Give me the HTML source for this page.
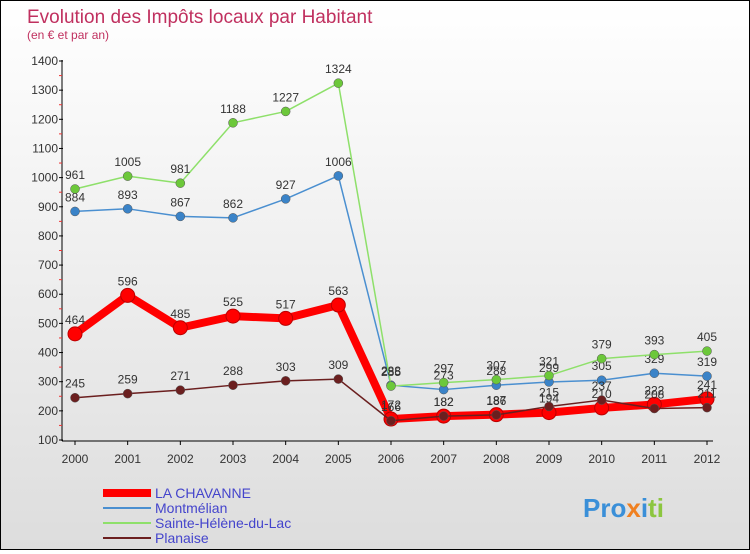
<!DOCTYPE html>
<html><head><meta charset="utf-8"><style>
body{margin:0;width:750px;height:550px;overflow:hidden;font-family:"Liberation Sans",sans-serif}
#wrap{position:relative;width:748px;height:548px;border:1px solid #000;background:linear-gradient(#fff,#ddd)}
</style></head><body>
<div id="wrap">
<svg id="c" width="748" height="548" xmlns="http://www.w3.org/2000/svg">
<text x="26" y="22" font-size="19" fill="#c0305f">Evolution des Impôts locaux par Habitant</text>
<text x="26" y="38" font-size="12" fill="#c0305f">(en € et par an)</text>
</svg>
</div>
<script>
const years=[2000,2001,2002,2003,2004,2005,2006,2007,2008,2009,2010,2011,2012];
const yTicks=[100,200,300,400,500,600,700,800,900,1000,1100,1200,1300,1400];
const chavanne=[464,596,485,525,517,563,172,182,187,194,210,222,241];
const montmelian=[884,893,867,862,927,1006,288,273,288,299,305,329,319];
const sainteHelene=[961,1005,981,1188,1227,1324,285,297,307,321,379,393,405];
const planaise=[245,259,271,288,303,309,166,182,186,215,237,208,211];
const seriesNames=["LA CHAVANNE","Montmélian","Sainte-Hélène-du-Lac","Planaise"];
const NS="http://www.w3.org/2000/svg";
const svg=document.getElementById('c');
const x=i=>74+i*(632/12);
const y=v=>439-(v-100)*(379/1300);
function mk(t,a,p){const e=document.createElementNS(NS,t);for(const k in a)e.setAttribute(k,a[k]);(p||svg).appendChild(e);return e;}
let ax=mk('line',{x1:61,y1:59,x2:61,y2:440,stroke:'#000'});


yTicks.forEach(v=>{
 mk('line',{x1:58,x2:62,y1:y(v),y2:y(v),stroke:'#000'});
 if(v<1400)mk('line',{x1:58,x2:61,y1:y(v+50),y2:y(v+50),stroke:'#e33'});
 const t=mk('text',{x:57,y:y(v)+4,'font-size':12,fill:'#333','text-anchor':'end'});t.textContent=v;
 
 
});
let xa=mk('line',{x1:61,y1:440,x2:712,y2:440,stroke:'#000'});


years.forEach((yr,i)=>{
 mk('line',{x1:x(i),x2:x(i),y1:440,y2:444,stroke:'#000'});
 const t=mk('text',{x:x(i),y:462,'font-size':12,fill:'#333','text-anchor':'middle'});t.textContent=yr;
 
 
});
const defs=[[chavanne,'#ff0000','#ff0000',8,7,'la-chavanne'],[montmelian,'#4a8fd0','#3a83c8',1.5,4.5,'montmelian'],[sainteHelene,'#8ee06a','#6cc83a',1.5,4.5,'sainte-helene'],[planaise,'#6b1f1f','#6b1f1f',1.5,4.5,'planaise']];
defs.forEach(([d,lc,pc,w,r,n])=>{
 const g=mk('g',{});
 
 
 const pl=mk('polyline',{points:d.map((v,i)=>x(i)+','+y(v)).join(' '),fill:'none',stroke:lc,'stroke-width':w,'stroke-linejoin':'round'},g);
 
 
 d.forEach((v,i)=>{
  const c=mk('circle',{cx:x(i),cy:y(v),r:r,fill:pc,stroke:n==='la-chavanne'?'#b00':'#555','stroke-width':n==='la-chavanne'?1:0.5},g);
  
  
  const t=mk('text',{x:x(i),y:y(v)-10,'font-size':12,fill:'#333','text-anchor':'middle'},g);t.textContent=v;
  
  
 });
});
const lcol=['#ff0000','#4a8fd0','#8ee06a','#6b1f1f'],lw=[8,2,2,2];
seriesNames.forEach((s,i)=>{
 const yy=492+i*15;
 const g=mk('g',{});
 
 
 mk('line',{x1:102,x2:150,y1:yy,y2:yy,stroke:lcol[i],'stroke-width':lw[i]},g);
 const t=mk('text',{x:154,y:yy+5,'font-size':14,fill:'#4444cc'},g);t.textContent=s;
});
const lg=mk('text',{x:582,y:516,'font-size':26,'font-weight':'bold',fill:'#3a8fd8'});


lg.innerHTML='<tspan fill="#3a8fd8">Pro</tspan><tspan fill="#f08020">x</tspan><tspan fill="#3a8fd8">i</tspan><tspan fill="#8cc63f">ti</tspan>';
</script>
</body></html>
